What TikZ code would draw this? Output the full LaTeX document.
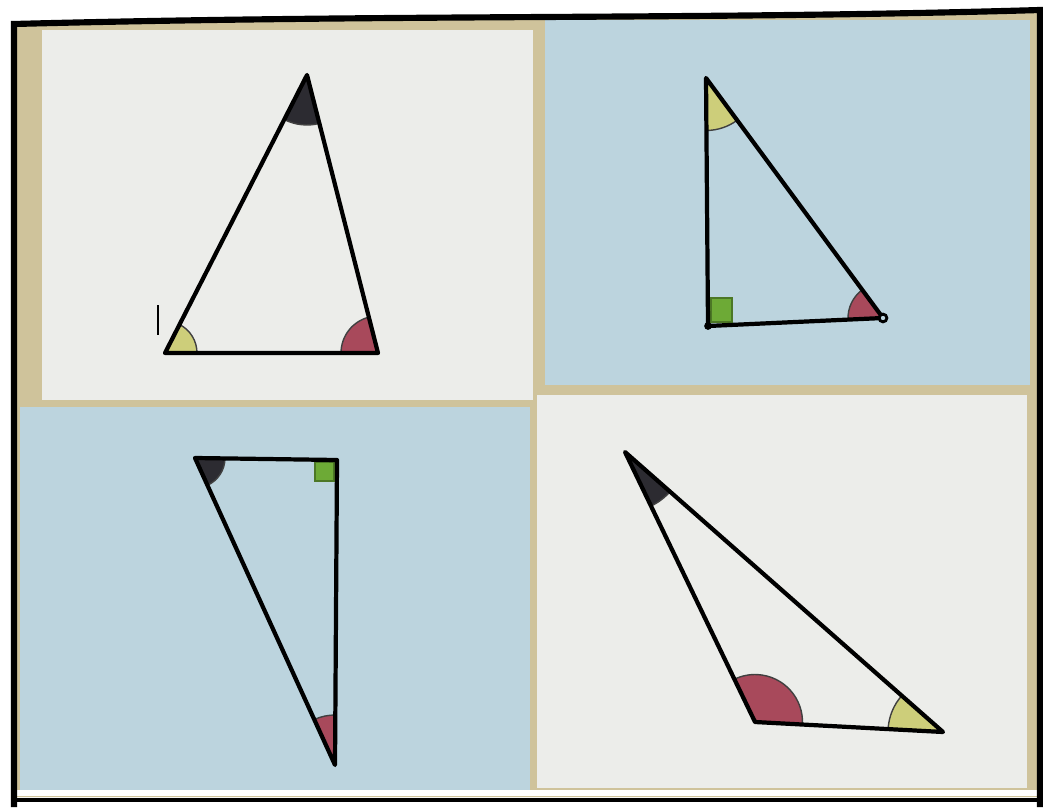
\documentclass[tikz,border=0pt]{standalone}
\usepackage{xcolor}
\usepackage{tikz}
\usetikzlibrary{angles}
\definecolor{cardblue}{HTML}{BCD4DE}
\definecolor{cardwhite}{HTML}{ECEDEA}
\definecolor{framebeige}{HTML}{CFC39B}
\definecolor{angred}{HTML}{A8495B}
\definecolor{angyellow}{HTML}{CDCE7A}
\definecolor{angdark}{HTML}{2C2B31}
\definecolor{anggreen}{HTML}{6DAA36}
\begin{document}
\begin{tikzpicture}[x=0.02cm,y=-0.02cm]
  \tikzset{%
    side/.style={line width=2.4pt,line join=round,line cap=round},
    sector/.style={draw=black!75,line width=0.8pt,angle radius=#1},
    redsec/.style={sector=#1,fill=angred},
    yellowsec/.style={sector=#1,fill=angyellow},
    darksec/.style={sector=#1,fill=angdark},
    rightsq/.style={fill=anggreen,draw=anggreen!70!black,line width=0.6pt},
    vtx/.style={fill=black}
  }
  \useasboundingbox (0,0) rectangle (1043,807);
  % frame and cards
  \fill[white] (0,0) rectangle (1043,807);
  \fill[framebeige] (14,24) -- (1038,12) -- (1038,797) -- (14,797) -- cycle;
  \fill[cardwhite] (42,30) rectangle (533,400);
  \fill[cardblue] (545,20) rectangle (1030,385);
  \fill[cardblue] (20,407) rectangle (530,795);
  \fill[cardwhite] (537,395) rectangle (1027,788);
  \fill[white] (14,790) rectangle (1038,796);
  \draw[line width=3.5pt] (14,807) -- (14,24) .. controls (400,14) and (700,20) .. (1040,10) -- (1040,807);
  \draw[line width=2.5pt] (14,800) -- (1040,800);
  % triangle 1
  \coordinate (A1) at (165,353);
  \coordinate (B1) at (378,353);
  \coordinate (C1) at (307,75);
  \pic[yellowsec=0.64cm] {angle=B1--A1--C1};
  \pic[redsec=0.74cm] {angle=C1--B1--A1};
  \pic[darksec=1.0cm] {angle=A1--C1--B1};
  \draw[side] (A1) -- (B1) -- (C1) -- cycle;
  \draw[line width=1.2pt] (158,305) -- (158,335);
  % triangle 2
  \coordinate (T2) at (706,78);
  \coordinate (L2) at (708,326);
  \coordinate (R2) at (883,318);
  \pic[yellowsec=1.05cm] {angle=L2--T2--R2};
  \pic[redsec=0.7cm] {angle=T2--R2--L2};
  \fill[rightsq] (711,298) rectangle (732,322);
  \draw[side] (T2) -- (L2) -- (R2) -- cycle;
  \fill[vtx] (L2) circle (2.2pt);
  \draw[line width=1.6pt,fill=cardblue] (R2) circle (2.2pt);
  % triangle 3
  \coordinate (P3) at (195,458);
  \coordinate (Q3) at (337,460);
  \coordinate (S3) at (335,765);
  \pic[darksec=0.6cm] {angle=S3--P3--Q3};
  \pic[redsec=1.0cm] {angle=Q3--S3--P3};
  \fill[rightsq] (315,462) rectangle (334,481);
  \draw[side] (P3) -- (Q3) -- (S3) -- cycle;
  % triangle 4
  \coordinate (U4) at (625,452);
  \coordinate (V4) at (755,722);
  \coordinate (W4) at (943,732);
  \pic[darksec=1.2cm] {angle=V4--U4--W4};
  \pic[redsec=0.95cm] {angle=W4--V4--U4};
  \pic[yellowsec=1.1cm] {angle=U4--W4--V4};
  \draw[side] (U4) -- (V4) -- (W4) -- cycle;
\end{tikzpicture}
\end{document}
